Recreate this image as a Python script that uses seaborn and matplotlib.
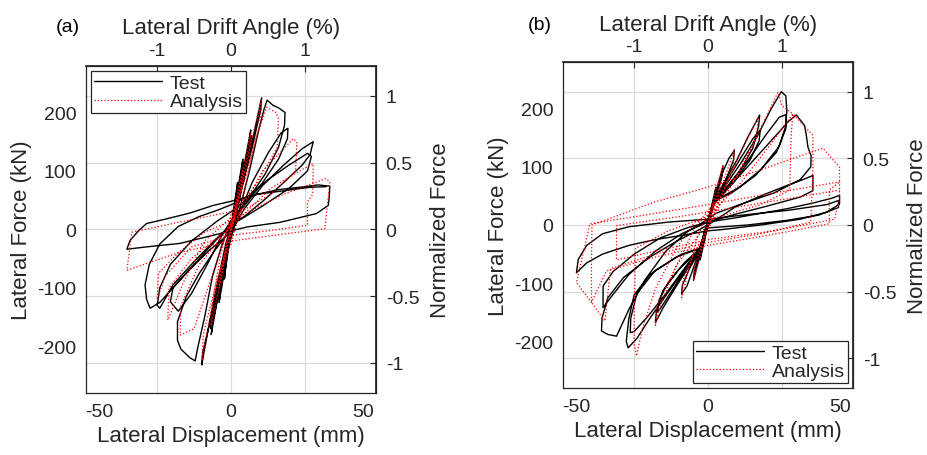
import matplotlib
matplotlib.use("Agg")
import matplotlib.pyplot as plt
import seaborn as sns
import pandas as pd

# ---------------- data ----------------
# panel (a) test  (displacement mm, force kN)
test_a_disp = [0, 1.5, 2.5, 2.2, 0.5, -0.5, -1.5, -2.5, -2.2, -0.5, 0,
               1, 3, 4.5, 4, 1.5, 0, -1.5, -3, -4.5, -4, -1.5, 0,
               1.2, 3.2, 4.6, 4.1, 1.5, 0, -1.5, -3.2, -4.6, -4.1, -1.5, 0,
               2, 5, 7.5, 7, 4, 1, -1, -4, -7.5, -7, -4, -1, 0,
               2, 5, 7.7, 7.2, 4, 1, -1, -4, -7.7, -7.2, -4, -1, 0,
               2, 6, 9, 11.6, 11.3, 8, 4, 1, -2, -6, -9, -11.1, -10.7, -7, -3, 0,
               3, 7, 10, 12.5, 13.7, 16, 18, 20.5, 20.3, 18, 13, 7, 2, 0, -3, -7, -10, -12.5, -13.6,
               -15.5, -19, -20.3, -20.3, -17, -12, -6, 0,
               3, 8, 14, 19, 21.6, 21.4, 18, 12, 5, 0, -4, -9, -15, -20, -23, -22, -16, -8, 0,
               5, 12, 20, 27, 31.2, 30, 27, 20, 12, 5, 0, -6, -14, -22, -27, -30.7, -32, -32.6, -31, -27,
               -20, -12, -5, 0,
               6, 14, 22, 29, 30.5, 29, 22, 12, 4, 0, -6, -14, -22, -27, -28, -27, -23, -15, -5, 0,
               8, 18, 28, 33, 37.5, 37.2, 36.9, 32.4, 18.6, 6, -6.7, -19.3, -32, -39.5, -38.3, -35, -32,
               -24.4, -15.5, -6.7, 0, 10, 20, 30, 36]
test_a_force = [0, 50, 80, 65, 15, -10, -45, -85, -70, -20, -5,
                20, 80, 120, 100, 35, 5, -35, -85, -125, -105, -40, -8,
                20, 80, 115, 95, 30, 3, -35, -85, -120, -100, -35, -8,
                30, 110, 170, 150, 80, 20, -15, -90, -180, -160, -95, -25, -10,
                25, 100, 160, 140, 75, 18, -15, -85, -170, -150, -90, -25, -10,
                25, 110, 170, 225, 205, 140, 70, 20, -25, -110, -180, -232, -210, -140, -60, -15,
                30, 100, 160, 205, 221, 212, 208, 200, 178, 140, 95, 55, 25, 10, -20, -80, -150, -200, -225,
                -220, -205, -190, -158, -115, -75, -35, 0,
                25, 80, 130, 165, 173, 155, 120, 80, 40, 15, -15, -60, -110, -140, -124, -100, -70, -35, -5,
                35, 75, 110, 138, 150, 128, 110, 80, 48, 22, 8, -20, -60, -100, -125, -135, -120, -95, -60, -25,
                5, 22, 33, 42,
                55, 85, 110, 130, 125, 100, 70, 40, 18, 8, -18, -55, -95, -135, -130, -100, -60, -20, 15, 30,
                58, 68, 73, 76, 74, 52, 41, 27, 12, 4, -10, -24, -30, -34, -19, -2, 10,
                18, 28, 41, 48, 60, 66, 72, 73]

# panel (a) analysis
ana_a_disp = [0, 3, 4.5, 4, 0, -3, -4.5, -4, 0,
              4, 7.5, 7, 2, -2, -4, -7.5, -7, -2, 2,
              6, 11.6, 11, 5, 0, -4, -8, -11.1, -10.5, -5, 0, 4,
              9, 13.5, 17, 18, 17.5, 10, 3, -3, -8, -14, -19.3, -19, -12, -3, 3,
              12, 23.6, 25, 24.5, 15, 0, -10, -18, -23.7, -24, -23.5, -15, 0,
              15, 28, 31.2, 31, 29, 29, 15, 0, -15, -25, -28, -27.5, -20, -10, 0,
              20, 36, 37.5, 35.6, 20, 0, -20, -39.5, -37.6, -20, 0]
ana_a_force = [0, 75, 100, 70, 10, -70, -100, -70, -10,
               90, 165, 130, 35, -30, -90, -165, -130, -35, 30,
               120, 223, 180, 80, 25, -45, -150, -224, -180, -80, -25, 40,
               150, 209, 200, 190, 140, 80, 40, -20, -90, -170, -181, -130, -60, -10, 25,
               100, 155, 150, 100, 60, 20, -20, -90, -153, -155, -100, -50, 5,
               70, 105, 112, 60, 47, 7, -2, -10, -30, -80, -120, -75, -40, -5, 15,
               60, 87, 81, 1, -8, -20, -40, -70, -5, 12, 30]

# panel (b) test
test_b_disp = [0, 1.5, 3, 2.7, 0.5, -0.5, -1.5, -3, -2.7, -0.5, 0,
               1, 3, 4.8, 5.7, 5.4, 3, 1, 0, -1.5, -3.5, -5.5, -5.2, -3, -1,
               2, 5, 8, 10, 9.7, 7, 3, 1, -1, -3, -6, -8, -10, -9.7, -7, -3, -1,
               2, 6, 11, 15, 19.6, 19.2, 17, 12, 6, 2, -3, -7, -12, -17, -20, -19.5, -17, -11, -6, -3,
               2, 7, 12, 17, 19.8, 19.4, 16, 10, 4, 2, -3, -8, -13, -18, -19.2, -18.5, -15, -9, -3,
               2, 7, 13, 19, 24, 27.8, 29.5, 29.9, 29.5, 27, 20, 12, 5, 2, -3, -8, -15, -22, -27, -30.3,
               -31, -30, -28, -22, -12, -3,
               2, 8, 15, 22, 27, 29.7, 29.5, 26, 18, 9, 2, -3, -9, -16, -23, -28, -29.5, -29.3, -27, -20,
               -10, -3,
               2, 10, 20, 27, 30.3, 33.5, 36.6, 37.2, 37.9, 39.1, 39, 35, 25, 12, 3, 0, -8, -16, -24, -30,
               -34.7, -38, -40.4, -40.2, -38, -32, -22, -12, -5, 0,
               10, 20, 30, 36, 39.8, 39.8, 35, 22, 10, 0, -10, -20, -30, -37, -39.8, -39.8, -36, -28, -18,
               -8, 0,
               10, 20, 30, 40, 47, 49.9, 49.9, 45, 35, 20, 5, 0, -10, -20, -30, -40, -46, -49.9, -49.2,
               -46, -40, -30, -15, 0, 15, 30, 45, 49.5, 49.5, 42, 30, 15, 0]
test_b_force = [0, 35, 65, 50, 10, -8, -30, -60, -45, -10, -3,
                15, 55, 85, 102, 85, 45, 15, 5, -20, -60, -95, -80, -45, -15,
                40, 85, 115, 128, 112, 80, 45, 20, -10, -40, -80, -105, -118, -103, -75, -42, -15,
                40, 72, 112, 150, 189, 170, 132, 92, 58, 40, -40, -70, -105, -142, -168, -146, -112, -76, -55, -40,
                38, 75, 112, 148, 163, 145, 112, 75, 45, 38, -38, -72, -108, -143, -150, -128, -98, -65, -40,
                40, 70, 110, 155, 200, 229, 222, 197, 170, 135, 95, 65, 48, 40, -40, -70, -115, -160, -195, -211,
                -200, -160, -120, -85, -55, -40,
                40, 70, 110, 155, 185, 190, 165, 125, 85, 55, 40, -40, -75, -118, -158, -183, -185, -160, -118, -78,
                -50, -40,
                35, 75, 125, 160, 177, 189, 171, 157, 134, 119, 100, 78, 55, 35, 20, 10, -12, -45, -95, -145,
                -191, -188, -182, -160, -125, -90, -55, -28, -12, 0,
                30, 50, 68, 78, 85, 59, 48, 32, 18, 5, -15, -45, -85, -125, -142, -105, -80, -50, -22,
                -5, 5,
                12, 20, 28, 38, 46, 51, 36, 22, 10, 0, -8, -10, -18, -25, -35, -50, -65, -82, -59,
                -35, -15, -3, 5, 10, 18, 25, 35, 42, 30, 17, 8, 0, -5]

# panel (b) analysis
ana_b_disp = [0, 3, 5.5, 5, 1, -1, -3, -5.5, -5, -1, 0,
              3, 7, 10, 9.5, 5, 0, -4, -7, -10, -9.5, -5, 0,
              5, 12, 19, 18.5, 12, 4, 0, -5, -12, -19, -20, -19.5, -12, -4, 0,
              8, 16, 22, 26.5, 28, 32.2, 31.5, 31, 20, 5, -5, -12, -20, -25, -27.1, -28, -28, -27.5, -15, 0,
              12, 24, 32.2, 39.8, 39.8, 39, 20, 0, -20, -37, -39.1, -44.2, -44.2, -44, -20, 0, 20,
              43.6, 49.9, 49.9, 46, 46, 20, 0, -20, -38.5, -44.2, -49.9, -44.8, -20, 0, 25, 49.9,
              49.9, 48, 25, 0, -20, -34.7, -34.7, -10, 10, 30, 49.9]
ana_b_force = [0, 60, 100, 75, 15, -10, -55, -95, -70, -15, -5,
               40, 90, 130, 100, 50, 20, -20, -70, -125, -95, -45, -10,
               50, 120, 185, 150, 90, 40, 25, -5, -70, -150, -175, -140, -70, -20, 0,
               60, 130, 185, 228, 205, 191, 150, 60, 35, 15, 5, -40, -110, -180, -225, -205, -150, -40, -10, 15,
               70, 140, 191, 154, 100, 5, -15, -30, -50, -75, -165, -133, -60, 0, 40, 65, 95,
               132, 99, 74, 60, 2, -20, -35, -55, -79, -133, -99, 2, 20, 35, 55, 74,
               45, 10, -10, -25, -45, -60, -1, 15, 30, 45, 60]

# axis / tick settings
disp_ticks = [-50, 0, 50]
force_ticks = [-200, -100, 0, 100, 200]
drift_ticks = [-1, 0, 1]
norm_ticks = [-1, -0.5, 0, 0.5, 1]
norm_labels = ["-1", "-0.5", "0", "0.5", "1"]
story_height_mm = 28.0      # mm per 1 % drift
norm_force_kN = 228.5       # kN for normalized force 1

# ---------------- style ----------------
sns.set_theme(style="white")
plt.rcParams["font.family"] = ["Liberation Sans", "DejaVu Sans"]
plt.rcParams["axes.unicode_minus"] = False
dark = "#262626"

fig = plt.figure(figsize=(9.27, 4.56), dpi=100)
W, H = 927, 456


def make_panel(box, td, tf, adisp, aforce, label, legend_loc, legend_anchor, label_xy):
    x0, y0, x1, y1 = box
    ax = fig.add_axes([x0 / W, 1 - y1 / H, (x1 - x0) / W, (y1 - y0) / H])
    ax.set_xlim(-55, 55)
    ax.set_ylim(-280, 280)
    for d in drift_ticks:
        ax.axvline(d * story_height_mm, color="#dcdcdc", lw=0.9, zorder=0)
    for n in norm_ticks:
        ax.axhline(n * norm_force_kN, color="#dcdcdc", lw=0.9, zorder=0)
    dft = pd.DataFrame({"disp": td, "force": tf})
    dfa = pd.DataFrame({"disp": adisp, "force": aforce})
    sns.lineplot(data=dft, x="disp", y="force", sort=False, estimator=None,
                 color="black", lw=1.0, ax=ax, label="Test")
    sns.lineplot(data=dfa, x="disp", y="force", sort=False, estimator=None,
                 color="red", lw=0.9, ls=":", ax=ax, label="Analysis")
    ax.set_xticks(disp_ticks)
    ax.set_yticks(force_ticks)
    ax.tick_params(direction="in", length=4, width=0.8, colors=dark, labelsize=14,
                   pad=7, top=False, right=False)
    for s in ax.spines.values():
        s.set_color(dark)
        s.set_linewidth(0.9)
    ax.set_xlabel("Lateral Displacement (mm)", fontsize=16, color=dark, labelpad=4)
    ax.set_ylabel("Lateral Force (kN)", fontsize=16, color=dark, labelpad=4)

    top = ax.secondary_xaxis("top", functions=(lambda d: d / story_height_mm,
                                               lambda a: a * story_height_mm))
    top.set_xticks(drift_ticks)
    top.tick_params(direction="in", length=4, width=0.8, colors=dark, labelsize=14, pad=5)
    top.set_xlabel("Lateral Drift Angle (%)", fontsize=16, color=dark, labelpad=6)
    right = ax.secondary_yaxis("right", functions=(lambda f: f / norm_force_kN,
                                                   lambda n: n * norm_force_kN))
    right.set_yticks(norm_ticks)
    right.set_yticklabels(norm_labels)
    right.tick_params(direction="in", length=4, width=0.8, colors=dark, labelsize=14, pad=7)
    right.set_ylabel("Normalized Force", fontsize=16, color=dark, labelpad=8)

    leg = ax.legend(loc=legend_loc, bbox_to_anchor=legend_anchor, fontsize=14,
                    frameon=True, fancybox=False, edgecolor=dark, framealpha=1,
                    borderpad=0.15, handlelength=3.5, handletextpad=0.4,
                    labelspacing=0.05, borderaxespad=0)
    leg.get_frame().set_linewidth(0.9)
    for t in leg.get_texts():
        t.set_color(dark)
    fig.text(label_xy[0] / W, 1 - label_xy[1] / H, label, fontsize=14, color="black",
             ha="center", va="center")
    return ax


make_panel((86, 66.7, 376, 394), test_a_disp, test_a_force, ana_a_disp, ana_a_force,
           "(a)", "upper left", (0.017, 0.983), (68, 28))
make_panel((563, 63, 853, 389), test_b_disp, test_b_force, ana_b_disp, ana_b_force,
           "(b)", "lower right", (0.983, 0.015), (540, 25))

fig.savefig("out.png", dpi=100)
